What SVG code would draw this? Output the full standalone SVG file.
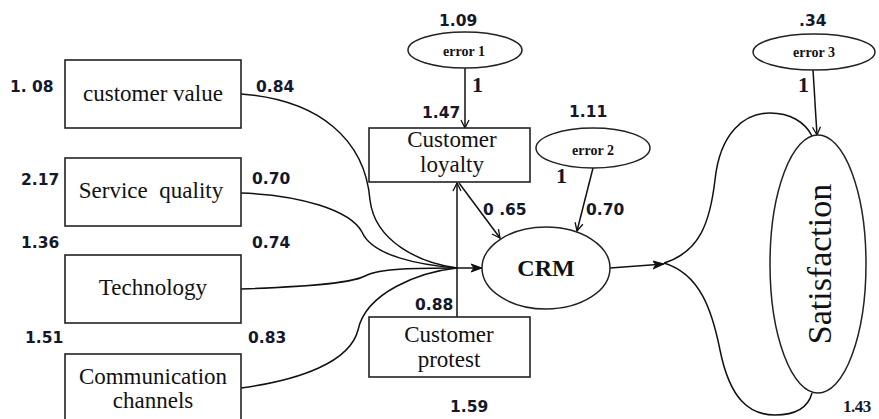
<svg xmlns="http://www.w3.org/2000/svg" width="879" height="419" viewBox="0 0 879 419">
<defs>
<marker id="v" markerWidth="10" markerHeight="10" refX="9" refY="5" orient="auto" markerUnits="userSpaceOnUse">
<path d="M1,1 L9,5 L1,9" fill="none" stroke="#111" stroke-width="1.3"/>
</marker>
<marker id="f" markerWidth="12" markerHeight="10" refX="11" refY="5" orient="auto" markerUnits="userSpaceOnUse">
<path d="M0,1 L11,5 L0,9 L3,5 Z" fill="#111" stroke="#111" stroke-width="1"/>
</marker>
</defs>
<style>
.box{fill:#fff;stroke:#222;stroke-width:1.6}
.ell{fill:#fff;stroke:#222;stroke-width:1.5}
.lbl{font-family:"Liberation Serif","Times New Roman",serif;font-size:23px;fill:#111;text-anchor:middle}
.num{font-family:"DejaVu Sans",Verdana,sans-serif;font-weight:bold;font-size:15.5px;fill:#14182a}
.err{font-family:"Liberation Serif","Times New Roman",serif;font-weight:bold;font-size:14px;fill:#111;text-anchor:middle}
.one{font-family:"Liberation Serif","Times New Roman",serif;font-weight:bold;font-size:22px;fill:#14182a}
.c{fill:none;stroke:#111;stroke-width:1.5}
</style>
<rect width="879" height="419" fill="#fff"/>
<g id="connectors">
<path class="c" d="M241,94 C320,100 365,140 370,200 C375,242 420,263 457,268"/>
<path class="c" d="M241,193 C300,195 350,210 362,232 C372,256 420,265 457,268"/>
<path class="c" d="M241,289 C300,287 350,284 365,276 C380,268 420,268 457,268"/>
<path class="c" d="M241,388 C300,380 350,362 358,330 C366,292 420,272 457,268"/>
<line class="c" x1="457" y1="268" x2="482" y2="268" stroke-width="2.4" marker-end="url(#f)"/>
<line class="c" x1="457" y1="317" x2="457" y2="183" marker-end="url(#v)"/>
<line class="c" x1="459" y1="183" x2="500" y2="238" marker-end="url(#v)"/>
<line class="c" x1="465" y1="68" x2="465" y2="128" marker-end="url(#v)"/>
<line class="c" x1="593" y1="168" x2="577" y2="231" marker-end="url(#v)"/>
<line class="c" x1="813" y1="70" x2="817" y2="135" marker-end="url(#v)"/>
<line class="c" x1="610" y1="268" x2="664" y2="264" marker-end="url(#f)"/>
<path class="c" d="M664,263 C700,252 710,222 715,180 C720,132 745,113 770,113 C790,113 805,122 812,136"/>
<path class="c" d="M664,263 C700,274 712,310 720,350 C730,400 750,415 775,415 C795,415 808,408 812,393"/>
</g>
<g id="customer-value">
<rect class="box" x="65" y="60" width="176" height="68"/>
<text class="lbl" x="153" y="101">customer value</text>
<text class="num" x="10" y="92">1. 08</text>
<text class="num" x="256" y="92">0.84</text>
</g>
<g id="service-quality">
<rect class="box" x="65" y="158" width="176" height="68"/>
<text class="lbl" x="151" y="198" xml:space="preserve">Service  quality</text>
<text class="num" x="21" y="185">2.17</text>
<text class="num" x="252" y="184">0.70</text>
</g>
<g id="technology">
<rect class="box" x="65" y="255" width="176" height="68"/>
<text class="lbl" x="153" y="295">Technology</text>
<text class="num" x="21" y="248">1.36</text>
<text class="num" x="252" y="248">0.74</text>
</g>
<g id="communication-channels">
<rect class="box" x="65" y="354" width="176" height="70"/>
<text class="lbl" x="153" y="384">Communication</text>
<text class="lbl" x="153" y="408">channels</text>
<text class="num" x="25" y="343">1.51</text>
<text class="num" x="248" y="343">0.83</text>
</g>
<g id="customer-loyalty">
<rect class="box" x="369" y="128" width="161" height="54"/>
<text class="lbl" x="452" y="147">Customer</text>
<text class="lbl" x="452" y="172">loyalty</text>
<text class="num" x="422" y="118">1.47</text>
<text class="num" x="483" y="215">0 .65</text>
</g>
<g id="customer-protest">
<rect class="box" x="369" y="317" width="161" height="60"/>
<text class="lbl" x="449" y="342">Customer</text>
<text class="lbl" x="449" y="367">protest</text>
<text class="num" x="415" y="310">0.88</text>
<text class="num" x="450" y="412">1.59</text>
</g>
<g id="error1">
<ellipse class="ell" cx="465" cy="50" rx="57" ry="18"/>
<text class="err" x="464" y="56">error 1</text>
<text class="num" x="439" y="26">1.09</text>
<text class="one" x="472" y="92">1</text>
</g>
<g id="error2">
<ellipse class="ell" cx="593" cy="148" rx="57" ry="20"/>
<text class="err" x="593" y="155">error 2</text>
<text class="num" x="569" y="117">1.11</text>
<text class="one" x="556" y="183">1</text>
<text class="num" x="586" y="215">0.70</text>
</g>
<g id="crm">
<ellipse class="ell" cx="546" cy="268" rx="64" ry="41"/>
<text x="546" y="276" style="font-family:'Liberation Serif','Times New Roman',serif;font-weight:bold;font-size:24px;fill:#111;text-anchor:middle">CRM</text>
</g>
<g id="error3">
<ellipse class="ell" cx="814" cy="52" rx="61" ry="18"/>
<text class="err" x="814" y="57">error 3</text>
<text class="num" x="799" y="26">.34</text>
<text class="one" x="798" y="92">1</text>
</g>
<g id="satisfaction">
<ellipse class="ell" cx="818" cy="264" rx="48" ry="129"/>
<text transform="translate(831,264) rotate(-90)" style="font-family:'Liberation Serif','Times New Roman',serif;font-size:34px;fill:#111;text-anchor:middle">Satisfaction</text>
<text x="843" y="412" style="font-family:'Liberation Serif','Times New Roman',serif;font-weight:bold;font-size:17px;fill:#14182a;letter-spacing:-0.5px">1.43</text>
</g>
</svg>
